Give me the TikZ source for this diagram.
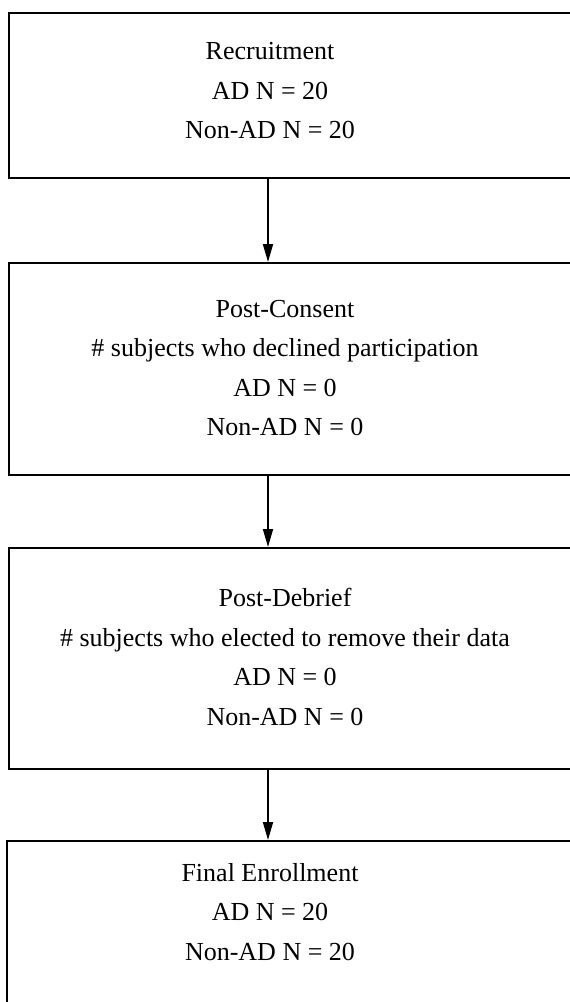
\documentclass[tikz,border=0pt]{standalone}
\usepackage{fontspec}
\setmainfont{Liberation Serif}
\usetikzlibrary{arrows.meta}
\begin{document}
\begin{tikzpicture}[x=1pt,y=-1pt,
  boxframe/.style={draw=black,line width=1.8pt,inner sep=0pt},
  boxtext/.style={align=center,font=\fontsize{26}{39.5}\selectfont,inner sep=0pt},
  flow/.style={draw=black,line width=1.8pt,-{Triangle[length=18pt,width=10pt]}}]
\useasboundingbox (0,0) rectangle (570,1002);
\clip (0,0) rectangle (570,1002);
\node[boxframe,minimum width=592pt,minimum height=165pt,anchor=north west] (b1) at (8,12) {};
\node[boxframe,minimum width=592pt,minimum height=212pt,anchor=north west] (b2) at (8,262) {};
\node[boxframe,minimum width=592pt,minimum height=221pt,anchor=north west] (b3) at (8,547) {};
\node[boxframe,minimum width=592pt,minimum height=240pt,anchor=north west] (b4) at (6,840) {};
\node[boxtext] (t1) at (270,91) {Recruitment\\AD N = 20\\Non-AD N = 20};
\node[boxtext] (t2) at (285,368) {Post-Consent\\\# subjects who declined participation\\AD N = 0\\Non-AD N = 0};
\node[boxtext] (t3) at (285,657) {Post-Debrief\\\# subjects who elected to remove their data\\AD N = 0\\Non-AD N = 0};
\node[boxtext] (t4) at (270,912) {Final Enrollment\\AD N = 20\\Non-AD N = 20};
\coordinate (ax) at (268,0);
\draw[flow] (b1.south -| ax) -- (b2.north -| ax);
\draw[flow] (b2.south -| ax) -- (b3.north -| ax);
\draw[flow] (b3.south -| ax) -- (b4.north -| ax);
\end{tikzpicture}
\end{document}
